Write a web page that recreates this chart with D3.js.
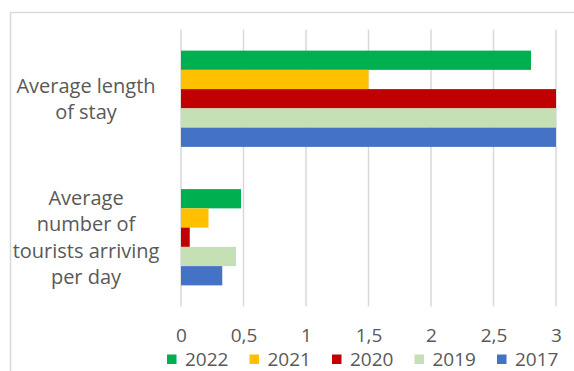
<!DOCTYPE html>
<html>
<head>
<meta charset="utf-8">
<script src="https://cdn.jsdelivr.net/npm/d3@7"></script>
<style>
  html, body { margin: 0; padding: 0; background: #fff; }
  svg { display: block; }
  text { font-family: "Open Sans", sans-serif; fill: #595959; }
</style>
</head>
<body>
<svg id="chart" width="574" height="371"></svg>
<script>
// ---- data ----
const categories = ["Average length of stay", "Average number of tourists arriving per day"];
const categoryLines = [["Average length", "of stay"], ["Average", "number of", "tourists arriving", "per day"]];
const years = ["2022", "2021", "2020", "2019", "2017"];
const values2022 = [2.8, 0.48];
const values2021 = [1.5, 0.22];
const values2020 = [3.0, 0.07];
const values2019 = [3.0, 0.44];
const values2017 = [3.0, 0.33];
const xTicks = [0, 0.5, 1, 1.5, 2, 2.5, 3];
const xTickLabels = ["0", "0,5", "1", "1,5", "2", "2,5", "3"];

const seriesValues = [values2022, values2021, values2020, values2019, values2017];
const colors = ["#00B050", "#FFC000", "#C00000", "#C5E0B4", "#4472C4"];

const svg = d3.select("#chart");

// chart area border
svg.append("rect")
  .attr("x", 10.5).attr("y", 12.5)
  .attr("width", 600).attr("height", 400)
  .attr("fill", "none").attr("stroke", "#D9D9D9").attr("stroke-width", 1.5);

const x = d3.scaleLinear().domain([0, 3]).range([181, 556]);
const y = d3.scaleBand().domain(categories).range([29.5, 306.5])
  .paddingInner(0.305).paddingOuter(0.1525);
const ySub = d3.scaleBand().domain(years).range([0, y.bandwidth()]);
const color = d3.scaleOrdinal().domain(years).range(colors);

// gridlines
svg.append("g").selectAll("line").data(xTicks).join("line")
  .attr("x1", d => x(d)).attr("x2", d => x(d))
  .attr("y1", 29.5).attr("y2", 306.5)
  .attr("stroke", "#D9D9D9").attr("stroke-width", 1.5);

// bars
const groups = svg.append("g").selectAll("g").data(categories).join("g")
  .attr("transform", c => `translate(0,${y(c)})`);
groups.selectAll("rect")
  .data((c, ci) => years.map((yr, si) => ({ yr, v: seriesValues[si][ci] })))
  .join("rect")
  .attr("x", x(0))
  .attr("y", d => ySub(d.yr))
  .attr("width", d => x(d.v) - x(0))
  .attr("height", ySub.bandwidth())
  .attr("fill", d => color(d.yr));

// x axis labels
const xAxis = d3.axisBottom(x).tickValues(xTicks)
  .tickFormat((d, i) => xTickLabels[i]).tickSize(0).tickPadding(0);
const gx = svg.append("g").attr("transform", "translate(0,335)").call(xAxis);
gx.select(".domain").remove();
gx.selectAll("text")
  .attr("dy", "0.35em").attr("y", 0)
  .style("font-size", "19px").style("font-family", "'Open Sans', sans-serif")
  .attr("fill", "#595959");

// category labels
const lineH = 26.5;
categories.forEach((c, ci) => {
  const lines = categoryLines[ci];
  const cy = y(c) + y.bandwidth() / 2;
  const t = svg.append("text")
    .attr("text-anchor", "middle")
    .style("font-size", "20px");
  lines.forEach((ln, li) => {
    t.append("tspan")
      .attr("x", 86)
      .attr("y", cy + (li - (lines.length - 1) / 2) * lineH)
      .attr("dy", "0.35em")
      .text(ln);
  });
});

// legend
const legendX = d3.scalePoint().domain(years).range([167, 497]);
const lg = svg.append("g").selectAll("g").data(years).join("g")
  .attr("transform", d => `translate(${legendX(d)},359)`);
lg.append("rect").attr("x", 0).attr("y", -4.5).attr("width", 9.5).attr("height", 9.5)
  .attr("fill", d => color(d));
lg.append("text").attr("x", 18).attr("y", 0).attr("dy", "0.35em")
  .style("font-size", "19px").text(d => d);
</script>
</body>
</html>
